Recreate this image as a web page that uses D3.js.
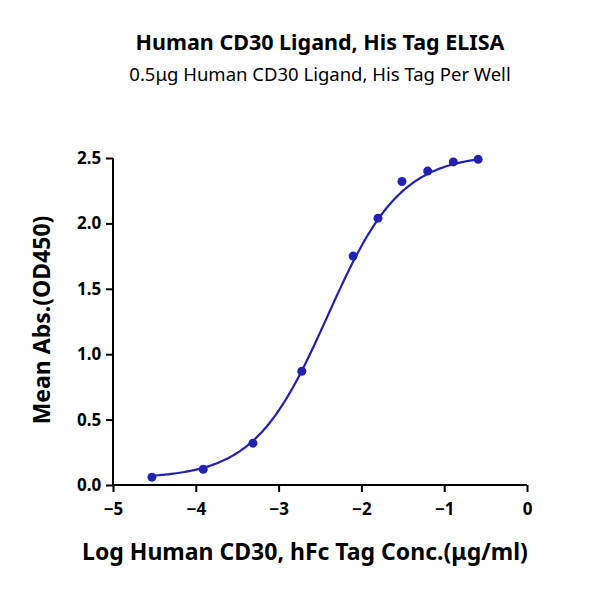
<!DOCTYPE html><html><head><meta charset="utf-8"><script src="https://cdn.jsdelivr.net/npm/d3@7"></script>
<style>body{margin:0;background:#fff}text{font-family:"Noto Sans","Open Sans",sans-serif}</style></head><body><svg id="c" width="600" height="592"></svg><script>
const logConc=[-4.53,-3.91,-3.31,-2.72,-2.10,-1.80,-1.51,-1.20,-0.89,-0.59];
const absVals=[0.06,0.12,0.32,0.87,1.75,2.04,2.32,2.40,2.47,2.49];
const xTicks=[-5,-4,-3,-2,-1,0];
const yTicks=[0,0.5,1.0,1.5,2.0,2.5];
const fit={bottom:0.05,top:2.53,ec50:-2.41,hill:0.98};
const col="#2222b2";
const svg=d3.select("#c");
const x=d3.scaleLinear().domain([-5,0]).range([113,527]);
const y=d3.scaleLinear().domain([0,2.5]).range([485,158]);
svg.append("text").attr("x",320).attr("y",50).attr("text-anchor","middle").attr("font-size",21.5).attr("font-weight","bold").text("Human CD30 Ligand, His Tag ELISA");
svg.append("text").attr("x",320).attr("y",81).attr("text-anchor","middle").attr("font-size",18.5).text("0.5μg Human CD30 Ligand, His Tag Per Well");
const xa=svg.append("g").attr("transform","translate(0,485)").call(d3.axisBottom(x).tickValues(xTicks).tickFormat(d3.format("d")).tickSize(7));
const ya=svg.append("g").attr("transform","translate(113,0)").call(d3.axisLeft(y).tickValues(yTicks).tickFormat(d3.format(".1f")).tickSize(7));
[xa,ya].forEach(a=>{a.selectAll("path,line").attr("stroke","#000").attr("stroke-width",2);a.selectAll("text").attr("font-size",17).attr("font-weight","bold").attr("fill","#000");a.select(".domain").attr("d",a===xa?"M113,0H527":"M0,158V485");});
xa.selectAll("text").attr("dy","1.2em");
ya.selectAll("text").attr("dx","-0.1em");
svg.append("text").attr("x",305).attr("y",560).attr("text-anchor","middle").attr("font-size",23).attr("font-weight","bold").text("Log Human CD30, hFc Tag Conc.(μg/ml)");
svg.append("text").attr("transform","translate(50,320) rotate(-90)").attr("text-anchor","middle").attr("font-size",23).attr("font-weight","bold").text("Mean Abs.(OD450)");
const f=v=>fit.bottom+(fit.top-fit.bottom)/(1+Math.pow(10,(fit.ec50-v)*fit.hill));
const xs=d3.range(0,201).map(i=>logConc[0]+(logConc[logConc.length-1]-logConc[0])*i/200);
svg.append("path").attr("d",d3.line().x(d=>x(d)).y(d=>y(f(d)))(xs)).attr("fill","none").attr("stroke",col).attr("stroke-width",2.2);
svg.selectAll("circle").data(logConc).join("circle").attr("cx",d=>x(d)).attr("cy",(d,i)=>y(absVals[i])).attr("r",4.5).attr("fill",col);
</script></body></html>
